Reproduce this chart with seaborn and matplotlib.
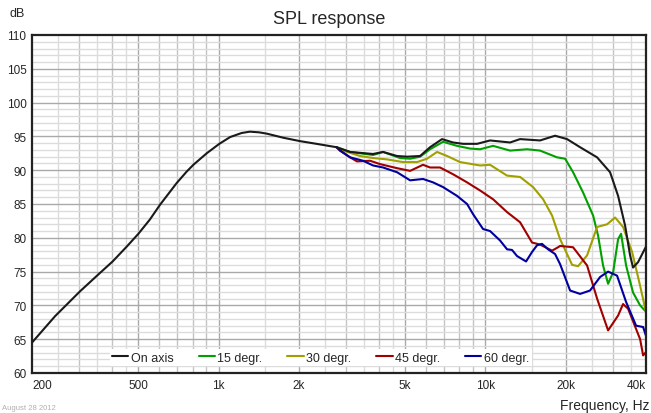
import numpy as np
import pandas as pd
import matplotlib.pyplot as plt
import matplotlib.colors as mcolors
import seaborn as sns

# part shared by all curves (up to ~2.8 kHz they coincide with on-axis)
freq_low = [200, 244, 303, 355, 401, 453, 501, 553, 604, 697, 760, 805, 903, 1007, 1105,
            1220, 1310, 1420, 1520, 1750, 2020, 2330, 2770]
spl_low = [64.5, 68.4, 72.1, 74.6, 76.5, 78.7, 80.6, 82.7, 84.9, 88.1, 89.8, 90.8, 92.5, 93.9, 94.9,
           95.5, 95.7, 95.6, 95.4, 94.8, 94.3, 93.9, 93.4]

# on axis, above 3 kHz
freq_on = [3112, 3794, 4137, 4668, 5088, 5694, 6206, 6882, 7568, 8250, 9310, 10414, 12380, 13494,
           16034, 18252, 20240, 22650, 26230, 29340, 31440, 33400, 34870, 35770, 37360, 40000]
spl_on = [92.7, 92.4, 92.7, 92.1, 92.0, 92.1, 93.4, 94.6, 94.1, 93.9, 93.9, 94.4, 94.1, 94.6,
          94.4, 95.1, 94.6, 93.4, 91.9, 89.7, 86.2, 81.8, 77.4, 75.6, 76.4, 78.7]

# 15 degrees
freq_15 = [3112, 3794, 4137, 4790, 5224, 5694, 6206, 6942, 7834, 8766, 9554, 10690, 12380, 14330,
           16034, 18570, 19900, 21320, 23240, 25340, 26460, 27620, 28840, 30120, 31440, 32260,
           33690, 35770, 38020, 39700, 40000]
spl_15 = [92.7, 92.25, 92.7, 91.8, 91.7, 92.0, 93.1, 94.2, 93.6, 93.2, 93.1, 93.6, 92.9, 93.1,
          92.9, 91.9, 91.7, 89.7, 86.7, 83.3, 80.3, 75.9, 73.2, 74.9, 79.8, 80.6,
          75.9, 71.9, 70.0, 69.2, 70.2]

# 30 degrees
freq_30 = [2928, 3392, 3794, 4282, 4916, 5546, 6046, 6592, 7188, 8040, 9554, 10414, 12060, 13494,
           15100, 16460, 17780, 19060, 21140, 22260, 24060, 26230, 28590, 30640, 32820, 35480,
           38020, 40000]
spl_30 = [92.9, 92.1, 91.8, 91.6, 91.2, 91.2, 91.7, 92.7, 92.1, 91.2, 90.7, 90.8, 89.2, 89.0,
          87.5, 85.7, 83.3, 79.8, 76.0, 75.8, 77.4, 81.6, 82.0, 83.0, 81.6, 77.9,
          72.9, 69.0]

# 45 degrees
freq_45 = [2854, 3112, 3304, 3698, 4032, 4668, 5224, 5840, 6206, 6764, 7568, 8540, 9554, 10690,
           12060, 13494, 14960, 16034, 17780, 18730, 19060, 21320, 24060, 26230, 28840, 31440,
           32820, 34280, 38020, 39020, 40000]
spl_45 = [92.9, 91.9, 91.3, 91.4, 90.9, 90.3, 89.9, 90.8, 90.4, 90.4, 89.4, 88.2, 87.0, 85.7,
          83.8, 82.3, 79.3, 79.0, 78.1, 78.6, 78.8, 78.6, 75.9, 71.0, 66.3, 68.5,
          70.2, 69.5, 65.0, 62.6, 63.1]

# 60 degrees
freq_60 = [2854, 3112, 3480, 3794, 4137, 4668, 5224, 5840, 6368, 6942, 7834, 8540, 8994, 9804,
           10414, 11354, 12060, 12590, 13146, 14210, 14960, 15630, 16310, 17180, 18252, 19060,
           20780, 22650, 24680, 26920, 28840, 31160, 33690, 36720, 39020, 40000]
spl_60 = [92.9, 91.9, 91.4, 90.7, 90.4, 89.7, 88.5, 88.7, 88.2, 87.5, 86.2, 85.0, 83.5, 81.3,
          81.0, 79.6, 78.3, 78.2, 77.3, 76.5, 77.9, 78.9, 79.1, 78.3, 77.6, 76.1,
          72.2, 71.7, 72.2, 74.2, 75.0, 74.4, 70.5, 67.0, 66.8, 65.5]

labels = ["On axis", "15 degr.", "30 degr.", "45 degr.", "60 degr."]
colors = ["#1a1a1a", "#00a000", "#a0a000", "#a00000", "#0000a0"]

x_ticks = [200, 500, 1000, 2000, 5000, 10000, 20000, 40000]
x_ticklabels = ["200", "500", "1k", "2k", "5k", "10k", "20k", "40k"]

# build long table
rows = []
series = [
    (labels[0], freq_low + freq_on, spl_low + spl_on),
    (labels[1], freq_low[-1:] + freq_15, spl_low[-1:] + spl_15),
    (labels[2], freq_low[-1:] + freq_30, spl_low[-1:] + spl_30),
    (labels[3], freq_low[-1:] + freq_45, spl_low[-1:] + spl_45),
    (labels[4], freq_low[-1:] + freq_60, spl_low[-1:] + spl_60),
]
for name, f, s in series:
    for fi, si in zip(f, s):
        rows.append({"freq": fi, "spl": si, "curve": name})
df = pd.DataFrame(rows)

sns.set_style("white")
plt.rcParams['font.family'] = ['Liberation Sans', 'DejaVu Sans']

fig = plt.figure(figsize=(6.51, 4.14), dpi=100)
ax = fig.add_axes([32 / 651, 1 - 374 / 414, 614 / 651, 338 / 414])

# grid
for dec in [100, 1000, 10000]:
    for m in [1, 1.5, 2, 2.5, 3, 3.5, 4, 4.5, 5, 6, 7, 8, 9]:
        f = dec * m
        if 200 < f < 40000:
            c = "#a9a9a9" if m in (1, 2, 5) else ("#c4c4c4" if float(m).is_integer() else "#dcdcdc")
            ax.axvline(f, color=c, lw=1, zorder=0)
for v in range(61, 110):
    ax.axhline(v, color="#a9a9a9" if v % 5 == 0 else "#dcdcdc", lw=1, zorder=0)

sns.lineplot(data=df, x="freq", y="spl", hue="curve", hue_order=labels,
             palette=dict(zip(labels, colors)), estimator=None, sort=False,
             linewidth=1.5, ax=ax)
# on-axis curve drawn on top
for ln in ax.get_lines():
    if mcolors.to_hex(ln.get_color()) == "#1a1a1a":
        ln.set_zorder(4)

ax.set_xscale("log")
ax.set_xlim(200, 40000)
ax.set_ylim(60, 110)
ax.set_xticks(x_ticks)
ax.set_xticklabels(x_ticklabels)
ax.xaxis.set_minor_locator(plt.NullLocator())
ax.set_yticks(range(60, 111, 5))
ax.tick_params(length=0, labelsize=8.5, pad=4)
tl = ax.get_xticklabels()
tl[-1].set_horizontalalignment("right")
tl[0].set_horizontalalignment("left")
ax.set_xlabel("")
ax.set_ylabel("")
for sp in ax.spines.values():
    sp.set_color("#222222")
    sp.set_linewidth(1.6)

handles, lbls = ax.get_legend_handles_labels()
leg = ax.legend(handles, lbls, ncol=5, loc="center", bbox_to_anchor=(0.47, 0.045),
                fontsize=9, handlelength=1.3, handletextpad=0.2, columnspacing=2.0,
                frameon=True, fancybox=False, borderpad=0.2, borderaxespad=0)
leg.get_frame().set_edgecolor("none")
leg.get_frame().set_facecolor("white")
leg.get_frame().set_alpha(1)

fig.text(329 / 651, 1 - 19 / 414, "SPL response", ha="center", va="center", fontsize=13)
fig.text(10 / 651, 1 - 14 / 414, "dB", ha="left", va="center", fontsize=9)
fig.text(649 / 651, 1 - 406 / 414, "Frequency, Hz", ha="right", va="center", fontsize=10)
fig.text(2 / 651, 1 - 409 / 414, "August 28 2012", ha="left", va="center", fontsize=5.5, color="#b0b0b0")

fig.savefig("out.png", dpi=100)
